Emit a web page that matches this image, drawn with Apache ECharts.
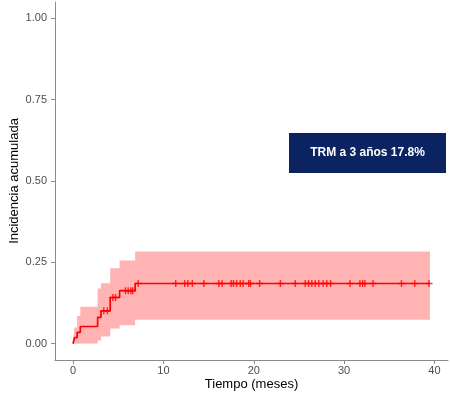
<!DOCTYPE html>
<html>
<head>
<meta charset="utf-8">
<script src="https://cdn.jsdelivr.net/npm/echarts@6/dist/echarts.min.js"></script>
<style>html,body{margin:0;padding:0;background:#fff;}#c{width:450px;height:395px;}</style>
</head>
<body>
<div id="c"></div>
<script>
// Step times (months) and cumulative incidence estimate
var eventTimes = [0, 0.15, 0.45, 0.8, 2.72, 3.09, 4.11, 5.15, 6.87, 39.5];
var estimate   = [0, 0.019, 0.035, 0.053, 0.081, 0.101, 0.142, 0.163, 0.185, 0.185];
var upperCI    = [0, 0.05, 0.085, 0.114, 0.17, 0.186, 0.232, 0.256, 0.283, 0.283];
var lowerCI    = [0, 0, 0, 0, 0.01, 0.022, 0.047, 0.057, 0.074, 0.074];
// censoring times (months)
var censorTimes = [3.4, 3.8, 4.4, 4.7, 5.8, 6.1, 6.4, 6.6, 7.2, 11.36, 12.35, 12.71, 13.2, 14.48,
  16.13, 16.5, 17.5, 17.75, 18.1, 18.5, 18.82, 19.44, 19.63, 20.65, 22.95, 24.59, 25.7, 26.06,
  26.43, 26.8, 27.2, 27.68, 28.08, 28.5, 30.65, 31.75, 32.05, 32.3, 33.2, 36.35, 37.82, 39.4];
var xTicks = [0, 10, 20, 30, 40];
var yTicks = [0, 0.25, 0.5, 0.75, 1];

function estAt(t) {
  var v = 0;
  for (var i = 0; i < eventTimes.length; i++) { if (eventTimes[i] <= t) v = estimate[i]; }
  return v;
}

var lowerData = eventTimes.map(function (t, i) { return [t, lowerCI[i]]; });
var upperData = eventTimes.map(function (t, i) { return [t, upperCI[i]]; });
var estData = eventTimes.map(function (t, i) { return [t, estimate[i]]; });
var censorData = censorTimes.map(function (t) { return [t, estAt(t)]; });

var plusPath = 'path://M4,0H6V4H10V6H6V10H4V6H0V4H4Z';
var font = 'Liberation Sans, Arial, sans-serif';

var chart = echarts.init(document.getElementById('c'), null, { renderer: 'canvas' });
chart.setOption({
  animation: false,
  backgroundColor: '#ffffff',
  grid: { left: 55, right: 2, top: 2, bottom: 35, containLabel: false, outerBoundsMode: 'none' },
  xAxis: {
    type: 'value', min: -2, max: 41.5,
    name: 'Tiempo (meses)', nameLocation: 'middle', nameGap: 18, nameMoveOverlap: false,
    nameTextStyle: { fontFamily: font, fontSize: 13, color: '#000' },
    axisLine: { onZero: false, lineStyle: { color: '#8a8a8a', width: 1 } },
    axisTick: { show: true, length: 4, customValues: xTicks, lineStyle: { color: '#8a8a8a' } },
    axisLabel: { customValues: xTicks, fontFamily: font, fontSize: 11, color: '#4d4d4d', margin: 5 },
    splitLine: { show: false }
  },
  yAxis: {
    type: 'value', min: -0.05, max: 1.05,
    name: 'Incidencia acumulada', nameLocation: 'middle', nameGap: 34, nameRotate: 90, nameMoveOverlap: false,
    nameTextStyle: { fontFamily: font, fontSize: 13, color: '#000' },
    axisLine: { show: true, onZero: false, lineStyle: { color: '#8a8a8a', width: 1 } },
    axisTick: { show: true, length: 4, customValues: yTicks, lineStyle: { color: '#8a8a8a' } },
    axisLabel: { customValues: yTicks, fontFamily: font, fontSize: 11, color: '#4d4d4d', margin: 8,
      formatter: function (v) { return v.toFixed(2); } },
    splitLine: { show: false }
  },
  series: [
    { type: 'line', data: upperData, step: 'end', showSymbol: false, symbol: 'none',
      lineStyle: { width: 0, opacity: 0 }, areaStyle: { color: '#ffb3b3', opacity: 1, origin: 0 }, silent: true, z: 1 },
    { type: 'line', data: lowerData, step: 'end', showSymbol: false, symbol: 'none',
      lineStyle: { width: 0, opacity: 0 }, areaStyle: { color: '#ffffff', opacity: 1, origin: -0.02 }, silent: true, z: 1 },
    { type: 'line', data: estData, step: 'end', showSymbol: false, symbol: 'none',
      lineStyle: { color: '#ff0000', width: 1.7 }, z: 3 },
    { type: 'scatter', data: censorData, symbol: plusPath, symbolSize: 7,
      itemStyle: { color: '#ff0000' }, z: 4 }
  ],
  graphic: [
    { type: 'rect', x: 289, y: 133, shape: { width: 157, height: 40 },
      style: { fill: '#0b2461' }, z: 10,
      textContent: { style: { text: 'TRM a 3 años 17.8%', fill: '#ffffff', fontFamily: font,
        fontWeight: 'bold', fontSize: 12 }, z: 11 },
      textConfig: { position: 'inside' } }
  ]
});
</script>
</body>
</html>
